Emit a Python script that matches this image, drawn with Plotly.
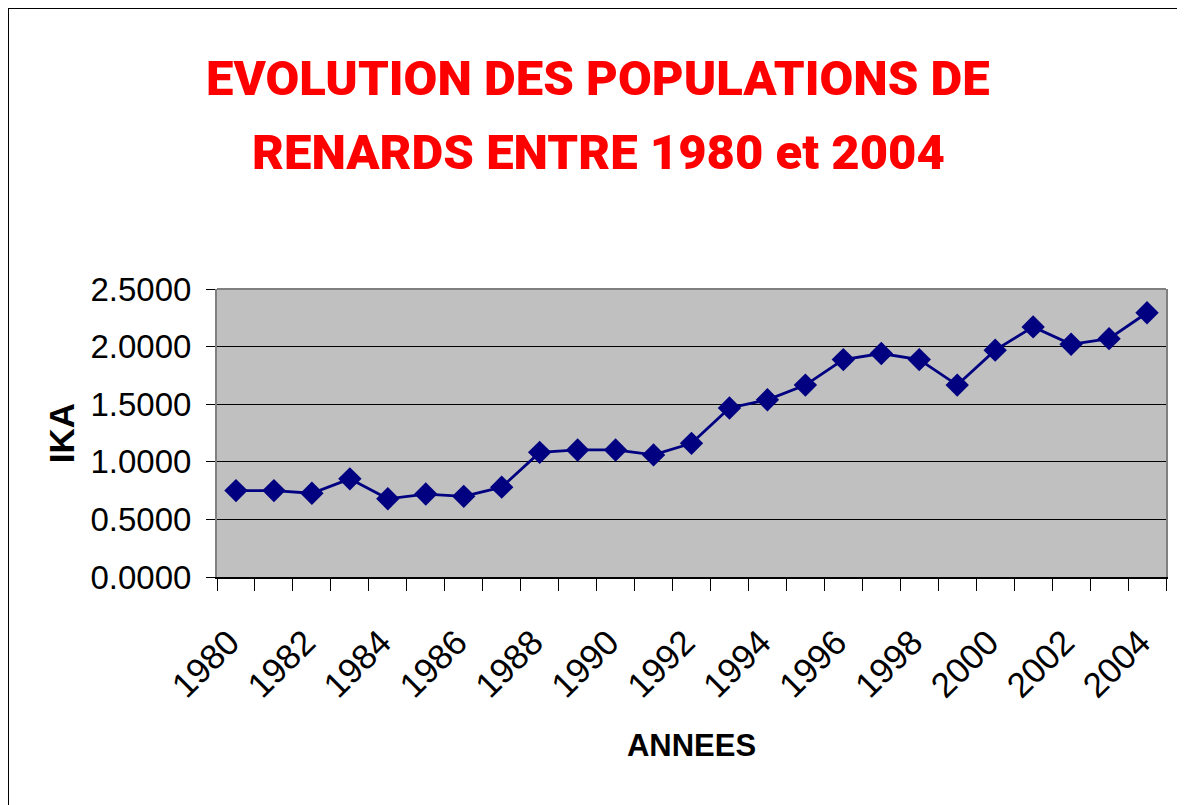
import plotly.graph_objects as go

years = list(range(1980, 2005))
ika = [0.75, 0.75, 0.727, 0.852, 0.679, 0.72, 0.70, 0.78, 1.082, 1.103, 1.103, 1.06,
       1.16, 1.467, 1.538, 1.666, 1.887, 1.94, 1.887, 1.666, 1.969, 2.171, 2.02, 2.069, 2.294]
label_years = list(range(1980, 2005, 2))
boundaries = [y - 0.5 for y in range(1980, 2006)]
title_lines = ["EVOLUTION DES POPULATIONS DE", "RENARDS ENTRE 1980 et 2004"]

OFF = 8  # page body margin
W, H = 1185 - OFF, 805 - OFF
L, R, T, B = 217 - OFF, 19, 289 - OFF, 228
pw, ph = W - L - R, H - T - B

def px_x(p):
    return (p - OFF - L) / pw

def px_y(p):
    return (H - B - (p - OFF)) / ph

FONT = "Liberation Sans, Arial, sans-serif"
TITLE_FONT = "Roboto, Liberation Sans, sans-serif"

fig = go.Figure()
fig.add_trace(go.Scatter(
    x=years, y=ika, mode="lines+markers",
    line=dict(color="#000080", width=2.8),
    marker=dict(symbol="diamond", size=18, color="#000080"),
    showlegend=False,
))

fig.update_layout(
    width=W, height=H,
    margin=dict(l=L, r=R, t=T, b=B, autoexpand=False),
    paper_bgcolor="white",
    plot_bgcolor="#C0C0C0",
    font=dict(family=FONT, color="black"),
    xaxis=dict(
        range=[1979.5, 2004.5],
        tickvals=label_years,
        ticktext=[str(y) + "\u00a0" for y in label_years],
        tickangle=-45,
        ticks="outside", ticklen=12, tickcolor="rgba(0,0,0,0)",
        ticklabelstandoff=10,
        tickfont=dict(size=35, family=FONT),
        minor=dict(tickvals=boundaries, ticks="outside", ticklen=12, tickcolor="black", tickwidth=1, showgrid=False),
        showgrid=False, zeroline=False,
        showline=True, linecolor="black", linewidth=2,
        title=dict(text="<b>ANNEES</b>", font=dict(size=31, family=FONT), standoff=31),
        automargin=False,
    ),
    yaxis=dict(
        range=[0, 2.5], dtick=0.5, tick0=0,
        tickformat=".4f",
        ticks="outside", ticklen=9, tickcolor="black",
        ticklabelstandoff=8,
        tickfont=dict(size=33, family=FONT),
        showgrid=True, gridcolor="black", gridwidth=1,
        zeroline=False,
        showline=True, linecolor="#808080", linewidth=2, mirror=True,
        title=dict(text="<b>IKA</b>", font=dict(size=35, family=FONT), standoff=5),
        automargin=False,
    ),
    shapes=[
        dict(type="line", xref="paper", yref="paper", x0=0, x1=1, y0=1, y1=1,
             line=dict(color="#808080", width=2)),
        dict(type="line", xref="paper", yref="paper", x0=px_x(8), x1=px_x(1200), y0=px_y(8), y1=px_y(8),
             line=dict(color="black", width=2)),
        dict(type="line", xref="paper", yref="paper", x0=px_x(8), x1=px_x(8), y0=px_y(7), y1=px_y(820),
             line=dict(color="black", width=2)),
    ],
    annotations=[
        dict(text=title_lines[0], xref="paper", yref="paper",
             x=px_x(598), y=px_y(79), xanchor="center", yanchor="middle", showarrow=False,
             font=dict(size=49, color="#FF0000", family=TITLE_FONT, weight=900)),
        dict(text=title_lines[1], xref="paper", yref="paper",
             x=px_x(598), y=px_y(152), xanchor="center", yanchor="middle", showarrow=False,
             font=dict(size=49, color="#FF0000", family=TITLE_FONT, weight=900)),
    ],
)

fig.write_html("out.html")
